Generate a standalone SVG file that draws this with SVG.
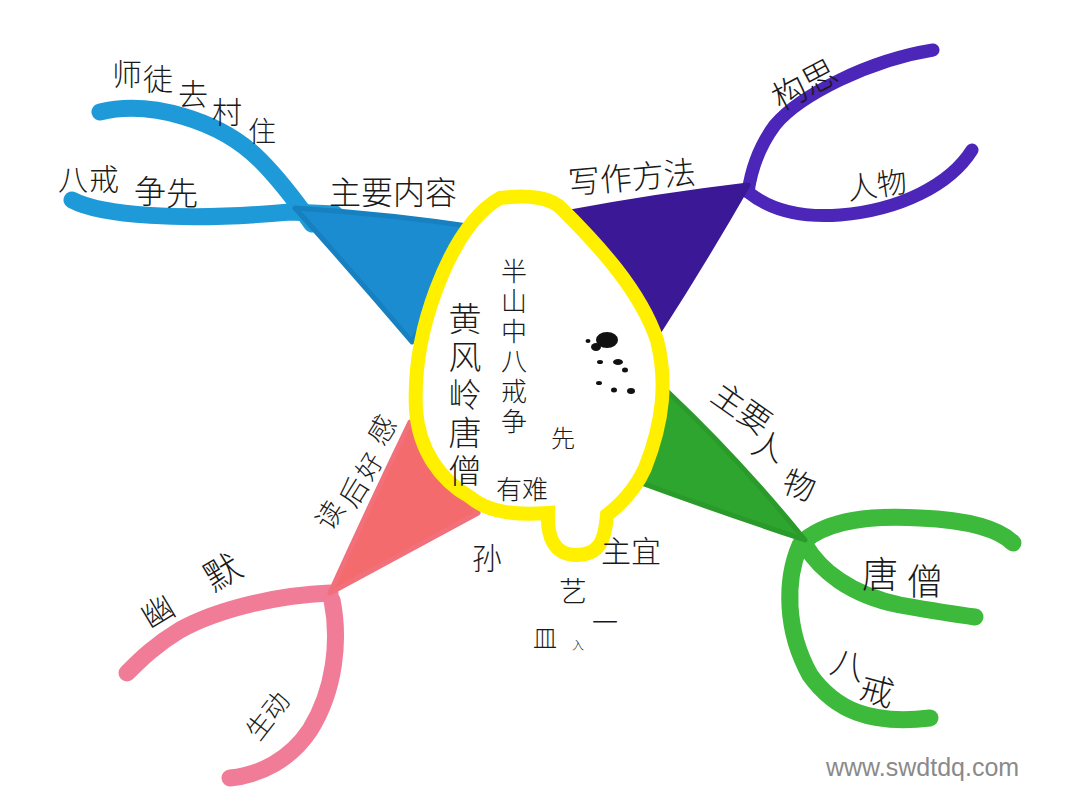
<svg xmlns="http://www.w3.org/2000/svg" width="1080" height="810" viewBox="0 0 1080 810">
<style>
.t{font-family:"Noto Sans CJK SC","Noto Sans",sans-serif;fill:#1a1a1a;font-weight:300}
.v{writing-mode:vertical-rl}
.br{fill:none;stroke-linecap:round;stroke-linejoin:round}
.blue{stroke:#1e9ad8}
.purple{stroke:#4b26b8}
.green{stroke:#3db93b}
.pink{stroke:#f07c98}
.wm{font-family:"Liberation Sans",Arial,sans-serif;fill:#8a8a8a;font-size:25px}
</style>
<rect width="1080" height="810" fill="#ffffff"/>
<g id="connectors">
  <path class="br blue" stroke-width="17" d="M100,112 C150,100 220,120 260,160 C280,180 295,200 312,224"/>
  <path class="br blue" stroke-width="17" d="M72,200 C100,215 180,222 290,212 L335,214"/>
  <path class="br purple" stroke-width="13" d="M933,50 C870,60 800,95 775,125 C760,145 752,165 748,192"/>
  <path class="br purple" stroke-width="13" d="M748,192 C770,210 800,218 840,215 C900,210 950,185 972,150"/>
  <path class="br green" stroke-width="17" d="M805,540 C830,520 870,515 920,518 C970,520 1000,530 1013,543"/>
  <path class="br green" stroke-width="17" d="M805,545 C820,570 850,595 900,605 C940,612 960,615 975,617"/>
  <path class="br green" stroke-width="17" d="M800,545 C785,580 785,630 810,675 C835,710 870,725 930,718"/>
  <path class="br pink" stroke-width="17" d="M330,593 C280,595 220,608 180,630 C155,645 140,660 127,673"/>
  <path class="br pink" stroke-width="17" d="M332,600 C340,640 335,690 310,730 C290,760 260,775 230,778"/>
</g>
<g id="wedge-blue">
  <path d="M295,208 Q390,214 482,228 Q445,285 412,342 Q355,275 295,208 Z" fill="#1a8ccf" stroke="#1680c0" stroke-width="5" stroke-linejoin="round"/>
</g>
<g id="wedge-purple">
  <path d="M565,213 Q655,196 748,185 Q705,260 660,330 Q615,270 565,213 Z" fill="#3a1896" stroke="#3a1896" stroke-width="5" stroke-linejoin="round"/>
</g>
<g id="wedge-green">
  <path d="M668,392 Q740,460 805,540 Q715,510 633,480 Q655,440 668,392 Z" fill="#2ea52e" stroke="#2a9a2a" stroke-width="5" stroke-linejoin="round"/>
</g>
<g id="wedge-pink">
  <path d="M410,422 Q440,470 478,513 Q400,555 330,593 Q370,505 410,422 Z" fill="#f46b6e" stroke="#f2707a" stroke-width="5" stroke-linejoin="round"/>
</g>
<g id="center">
  <path d="M500,198 C530,194 553,198 563,210 C598,245 640,290 657,340 C667,380 664,420 645,468 C635,490 620,505 607,515 C605,540 600,555 576,555 C553,555 547,535 548,513 C520,515 490,514 470,497 C440,480 419,450 416,410 C414,370 421,330 436,290 C451,250 472,214 500,198 Z" fill="#ffffff" stroke="#fff000" stroke-width="14"/>
  <text class="t v" font-size="26" letter-spacing="4" x="514" y="258">半山中八戒争</text>
  <text class="t" font-size="24" x="563" y="447" text-anchor="middle">先</text>
  <text class="t v" font-size="33" letter-spacing="5" x="465" y="302">黄风岭唐僧</text>
  <text class="t" font-size="26" x="522" y="499" text-anchor="middle">有难</text>
  <ellipse cx="607" cy="340" rx="11" ry="8" fill="#111"/>
  <ellipse cx="596" cy="347" rx="5" ry="4" fill="#111"/>
  <ellipse cx="588" cy="341" rx="2.5" ry="2" fill="#111"/>
  <ellipse cx="600" cy="362" rx="3" ry="2" fill="#111"/>
  <ellipse cx="618" cy="362" rx="5" ry="3" fill="#111"/>
  <ellipse cx="625" cy="370" rx="3" ry="2.5" fill="#111"/>
  <ellipse cx="599" cy="383" rx="3" ry="2" fill="#111"/>
  <ellipse cx="614" cy="390" rx="3" ry="2.5" fill="#111"/>
  <ellipse cx="631" cy="391" rx="4" ry="3" fill="#111"/>
</g>
<g id="node-zhuyaoneirong">
  <text class="t" font-size="32" x="393" y="204" text-anchor="middle">主要内容</text>
</g>
<g id="node-shitu">
  <text class="t" font-size="30" text-anchor="middle"><tspan x="127" y="85">师</tspan><tspan x="158" y="90">徒</tspan><tspan x="193" y="105">去</tspan><tspan x="227" y="123">村</tspan><tspan x="262" y="142" font-size="28">住</tspan></text>
</g>
<g id="node-bajie-zhengxian">
  <text class="t" font-size="30" text-anchor="middle"><tspan x="73" y="190">八</tspan><tspan x="104" y="190">戒</tspan><tspan x="150" y="203" font-size="32">争</tspan><tspan x="182" y="205" font-size="32">先</tspan></text>
</g>
<g id="node-xiezuofangfa">
  <text class="t" font-size="32" x="632" y="189" text-anchor="middle" transform="rotate(-5 632 178)">写作方法</text>
</g>
<g id="node-gousi">
  <text class="t" font-size="34" x="805" y="97" text-anchor="middle" transform="rotate(-28 805 86)">构思</text>
</g>
<g id="node-renwu">
  <text class="t" font-size="30" x="877" y="196" text-anchor="middle" transform="rotate(-8 877 186)">人物</text>
</g>
<g id="node-zhuyaorenwu">
  <text class="t" font-size="32" x="742" y="420" text-anchor="middle" transform="rotate(35 742 408)">主要</text>
  <text class="t" font-size="32" x="768" y="458" text-anchor="middle" transform="rotate(20 768 447)">人</text>
  <text class="t" font-size="32" x="799" y="497" text-anchor="middle" transform="rotate(20 799 486)">物</text>
</g>
<g id="node-tangseng">
  <text class="t" font-size="36" text-anchor="middle"><tspan x="880" y="588">唐</tspan><tspan x="925" y="595">僧</tspan></text>
</g>
<g id="node-bajie">
  <text class="t" font-size="34" x="848" y="677" text-anchor="middle" transform="rotate(15 848 665)">八</text>
  <text class="t" font-size="34" x="877" y="703" text-anchor="middle" transform="rotate(15 877 691)">戒</text>
</g>
<g id="node-duhougan">
  <text class="t" font-size="28" x="330" y="525" text-anchor="middle" transform="rotate(-58 330 515)">读</text>
  <text class="t" font-size="28" x="354" y="502" text-anchor="middle" transform="rotate(-58 354 492)">后</text>
  <text class="t" font-size="26" x="369" y="476" text-anchor="middle" transform="rotate(-58 369 466)">好</text>
  <text class="t" font-size="28" x="382" y="440" text-anchor="middle" transform="rotate(-58 382 430)">感</text>
</g>
<g id="node-youmo">
  <text class="t" font-size="32" x="158" y="623" text-anchor="middle" transform="rotate(-31 158 612)">幽</text>
  <text class="t" font-size="36" x="223" y="585" text-anchor="middle" transform="rotate(-31 223 573)">默</text>
</g>
<g id="node-shengdong">
  <text class="t" font-size="26" x="268" y="725" text-anchor="middle" transform="rotate(-52 268 716)">生动</text>
</g>
<g id="node-bottom-notes">
  <text class="t" font-size="30" x="487" y="569" text-anchor="middle">孙</text>
  <text class="t" font-size="30" x="631" y="562" text-anchor="middle">主宜</text>
  <text class="t" font-size="28" x="573" y="602" text-anchor="middle">艺</text>
  <text class="t" font-size="26" x="605" y="632" text-anchor="middle">一</text>
  <text class="t" font-size="24" x="545" y="647" text-anchor="middle">皿</text>
  <text class="t" font-size="12" x="578" y="650" text-anchor="middle">入</text>
</g>
<g id="watermark">
  <text class="wm" x="826" y="776">www.swdtdq.com</text>
</g>
</svg>
